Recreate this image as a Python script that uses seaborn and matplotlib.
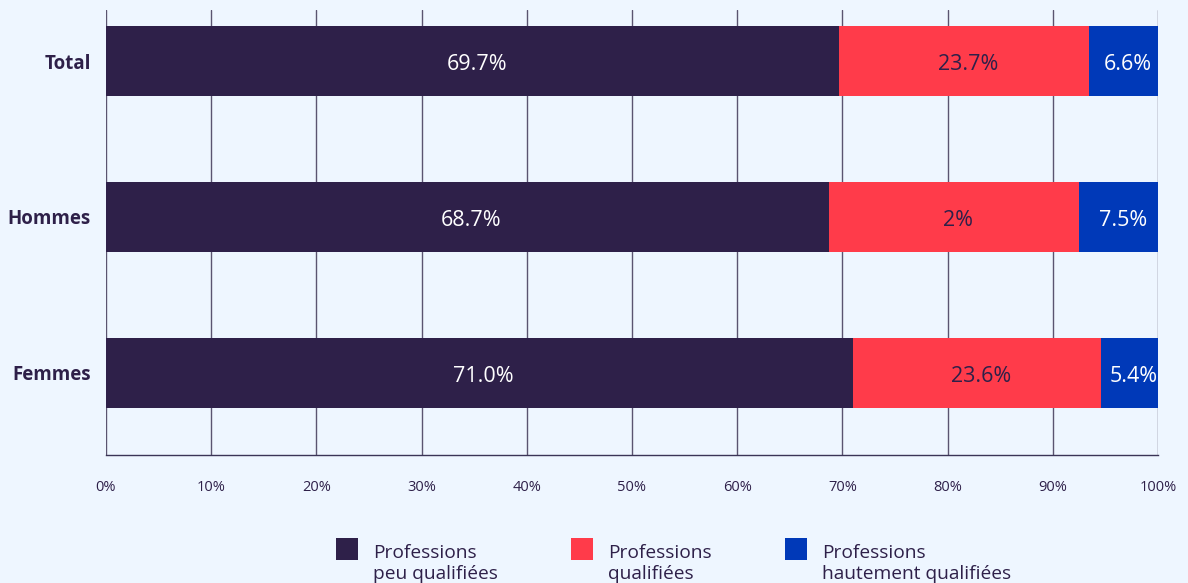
import matplotlib
matplotlib.use("Agg")
import matplotlib.pyplot as plt
from matplotlib.patches import Rectangle
from matplotlib.legend_handler import HandlerPatch
from matplotlib.container import BarContainer
import seaborn as sns
import pandas as pd
import numpy as np

# Share of employment by skill level
groups = ["Total", "Hommes", "Femmes"]
peu_qualifiees = [69.7, 68.7, 71.0]
qualifiees = [23.7, 23.8, 23.6]
hautement_qualifiees = [6.6, 7.5, 5.4]

# Text printed inside each segment
labels_peu = ["69.7%", "68.7%", "71.0%"]
labels_qual = ["23.7%", "2%", "23.6%"]
labels_haut = ["6.6%", "7.5%", "5.4%"]

series_names = ["Professions\npeu qualifiées", "Professions\nqualifiées",
                "Professions\nhautement qualifiées"]
colors = ["#2E2049", "#FF3B4A", "#0039B8"]
text_colors = ["#FFFFFF", "#2E2049", "#FFFFFF"]
x_ticks = [0, 10, 20, 30, 40, 50, 60, 70, 80, 90, 100]

bg = "#EEF6FF"
ink = "#2E2049"

sns.set_theme(style="white")
plt.rcParams["font.family"] = ["Open Sans", "DejaVu Sans"]

fig = plt.figure(figsize=(11.88, 5.83), dpi=100, facecolor=bg)
ax = fig.add_axes([0.0892, 0.2196, 0.9747 - 0.0892, 0.9828 - 0.2196])
ax.set_facecolor(bg)

parts = [peu_qualifiees, qualifiees, hautement_qualifiees]
cum = np.cumsum(np.array(parts), axis=0)
starts = np.vstack([np.zeros(len(groups)), cum[:-1]])

# Stacked bars: draw cumulative totals from the longest to the shortest
for i in reversed(range(len(parts))):
    df = pd.DataFrame({"groupe": groups, "valeur": cum[i]})
    sns.barplot(data=df, x="valeur", y="groupe", orient="h", color=colors[i],
                saturation=1, width=0.449, ax=ax, zorder=3, linewidth=0,
                label=series_names[i])

label_sets = [labels_peu, labels_qual, labels_haut]
for i in range(len(parts)):
    for j in range(len(groups)):
        xc = starts[i][j] + parts[i][j] / 2
        ax.text(xc + 0.4, j + 0.02, label_sets[i][j], ha="center", va="center",
                color=text_colors[i], fontsize=15.5, zorder=5)

ax.set_xlim(0, 100)
ax.set_ylim(2.526, -0.327)
ax.set_xticks(x_ticks)
ax.set_xticklabels([f"{t}%" for t in x_ticks])
ax.tick_params(axis="x", length=0, pad=18, labelsize=10.5, labelcolor=ink)
ax.tick_params(axis="y", length=0, pad=11, labelsize=13.5, labelcolor=ink)
for lab in ax.get_yticklabels():
    lab.set_fontweight("bold")
ax.set_xlabel("")
ax.set_ylabel("")

ax.grid(axis="x", color="#5a5470", linewidth=1, zorder=0)
ax.grid(axis="y", visible=False)
for side in ["top", "left", "right"]:
    ax.spines[side].set_visible(False)
ax.spines["bottom"].set_color("#3a3456")
ax.spines["bottom"].set_linewidth(1)


def top_square(legend, orig_handle, xdescent, ydescent, width, height, fontsize):
    # square aligned with the first line of a two-line legend label
    return Rectangle((-xdescent, -ydescent + 0.7 * fontsize), width, width)


def copy_bar_style(legend_handle, orig_handle):
    legend_handle.update_from(orig_handle.patches[0])


handles, lbls = ax.get_legend_handles_labels()
order = [lbls.index(n) for n in series_names]
if ax.get_legend() is not None:
    ax.get_legend().remove()
fig.legend([handles[k] for k in order], [lbls[k] for k in order],
           loc="lower center", bbox_to_anchor=(0.567, -0.03), ncol=3,
           frameon=False, fontsize=13.8, labelcolor=ink,
           handlelength=1.15, handleheight=1.15, handletextpad=0.8,
           columnspacing=3.8, labelspacing=0.2,
           handler_map={BarContainer: HandlerPatch(patch_func=top_square,
                                                   update_func=copy_bar_style)})

fig.savefig("out.png", dpi=100, facecolor=bg)
